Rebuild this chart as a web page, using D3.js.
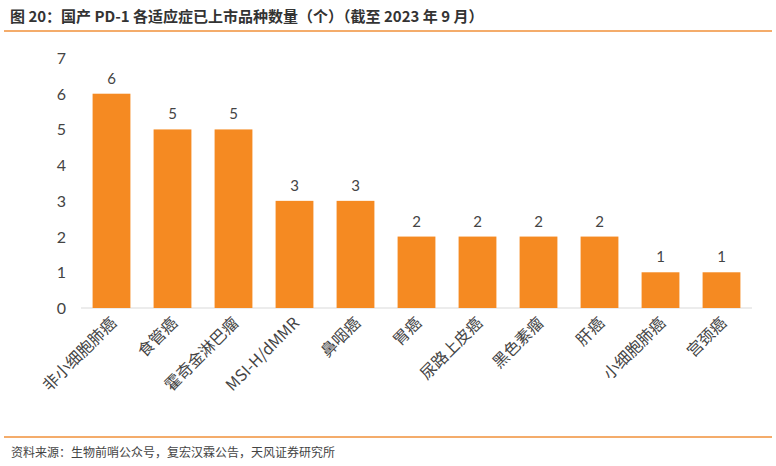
<!DOCTYPE html>
<html>
<head><meta charset="utf-8"></head>
<body style="margin: 0">
  <script src="https://d3js.org/d3.v7.min.js"></script>
  <script>
    const categories = ["非小细胞肺癌", "食管癌", "霍奇金淋巴瘤", "MSI-H/dMMR", "鼻咽癌", "胃癌", "尿路上皮癌", "黑色素瘤", "肝癌", "小细胞肺癌", "宫颈癌"];
    const counts = [6, 5, 5, 3, 3, 2, 2, 2, 2, 1, 1];
    const yTicks = [0, 1, 2, 3, 4, 5, 6, 7];

    const font = "'Noto Sans CJK SC', sans-serif";
    const svg = d3.select("body").append("svg").attr("width", 776).attr("height", 466)
      .style("font-family", font);

    svg.append("text").attr("x", 10).attr("y", 22).attr("font-size", 15).attr("font-weight", "bold")
      .attr("fill", "#333").text("图 20：国产 PD-1 各适应症已上市品种数量（个）（截至 2023 年 9 月）");
    svg.append("line").attr("x1", 4).attr("x2", 772).attr("y1", 31).attr("y2", 31)
      .attr("stroke", "#f0903a").attr("stroke-width", 1.5);
    svg.append("line").attr("x1", 4).attr("x2", 772).attr("y1", 437).attr("y2", 437)
      .attr("stroke", "#f0903a").attr("stroke-width", 1.5);
    svg.append("text").attr("x", 11).attr("y", 457).attr("font-size", 12).attr("fill", "#444")
      .text("资料来源：生物前哨公众号，复宏汉霖公告，天风证券研究所");

    const x = d3.scaleBand().domain(categories).range([81, 752]).paddingInner(0.38).paddingOuter(0.19);
    const y = d3.scaleLinear().domain([0, 7]).range([308, 58]);

    svg.append("line").attr("x1", 81).attr("x2", 752).attr("y1", y(0)).attr("y2", y(0))
      .attr("stroke", "#d9d9d9");

    svg.selectAll(".ytick").data(yTicks).enter().append("text")
      .attr("x", 66).attr("y", d => y(d) + 6).attr("text-anchor", "end")
      .attr("font-size", 16).attr("fill", "#444").attr("font-family", "Lato, sans-serif").text(d => d);

    svg.selectAll("rect").data(counts).enter().append("rect")
      .attr("x", (d, i) => x(categories[i])).attr("width", x.bandwidth())
      .attr("y", d => y(d)).attr("height", d => y(0) - y(d)).attr("fill", "#f58a22");

    svg.selectAll(".val").data(counts).enter().append("text")
      .attr("x", (d, i) => x(categories[i]) + x.bandwidth() / 2).attr("y", d => y(d) - 10)
      .attr("text-anchor", "middle").attr("font-size", 15).attr("fill", "#444")
      .attr("font-family", "Lato, sans-serif").text(d => d);

    svg.selectAll(".cat").data(categories).enter().append("text")
      .attr("transform", d => `translate(${x(d) + x.bandwidth() / 2 + 6},${y(0) + 16}) rotate(-45)`)
      .attr("text-anchor", "end").attr("font-size", 16).attr("fill", "#444").text(d => d);
  </script>
</body>
</html>
